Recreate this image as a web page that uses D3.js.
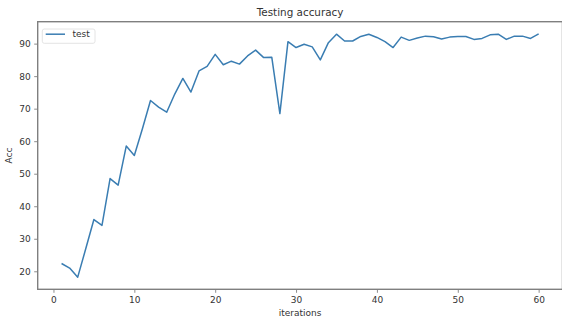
<!DOCTYPE html>
<html>
<head>
<meta charset="utf-8">
<script src="https://cdn.jsdelivr.net/npm/d3@7"></script>
<style>
  html, body { margin: 0; padding: 0; background: #fff; }
  svg { display: block; }
  text { font-family: "DejaVu Sans", sans-serif; fill: #333; }
</style>
</head>
<body>
<svg id="chart" width="562" height="322"></svg>
<script>
// Test accuracy per iteration
const iterations = d3.range(1, 61);
const testAcc = [
  22.4, 21.0, 18.2, 27.0, 35.9, 34.1, 48.5, 46.5, 58.5, 55.6,
  63.8, 72.5, 70.5, 68.9, 74.5, 79.3, 75.1, 81.6, 83.0, 86.7,
  83.5, 84.6, 83.7, 86.2, 88.0, 85.7, 85.8, 68.5, 90.6, 88.8,
  89.8, 89.0, 85.0, 90.3, 92.9, 90.8, 90.8, 92.2, 92.9, 91.9,
  90.6, 88.8, 92.0, 91.0, 91.7, 92.3, 92.1, 91.4, 92.0, 92.2,
  92.2, 91.3, 91.6, 92.7, 92.9, 91.3, 92.3, 92.3, 91.6, 93.0
];
const xTicks = [0, 10, 20, 30, 40, 50, 60];
const yTicks = [20, 30, 40, 50, 60, 70, 80, 90];
const seriesName = "test";
const titleText = "Testing accuracy";
const xLabel = "iterations";
const yLabel = "Acc";

const svg = d3.select("#chart");
const m = { left: 37.7, top: 21.7, right: 562.5, bottom: 289.3 };

// 5% padding on both axes
const pad = (lo, hi) => { const d = (hi - lo) * 0.05; return [lo - d, hi + d]; };
const x = d3.scaleLinear().domain(pad(d3.min(iterations), d3.max(iterations))).range([m.left, m.right]);
const y = d3.scaleLinear().domain(pad(d3.min(testAcc), d3.max(testAcc))).range([m.bottom, m.top]);

const lineColor = "#3a7db2";
const axisColor = "#7f7f7f";

// x axis
const gx = svg.append("g").attr("transform", `translate(0,${m.bottom})`)
  .call(d3.axisBottom(x).tickValues(xTicks).tickSize(3.5).tickPadding(3.5).tickFormat(d3.format("d")));
gx.select(".domain").remove();
gx.selectAll("line").attr("stroke", axisColor).attr("stroke-width", 0.9);
gx.selectAll("text").style("font-size", "9px").style("fill", "#333");

// y axis
const gy = svg.append("g").attr("transform", `translate(${m.left},0)`)
  .call(d3.axisLeft(y).tickValues(yTicks).tickSize(3.5).tickPadding(3.5).tickFormat(d3.format("d")));
gy.select(".domain").remove();
gy.selectAll("line").attr("stroke", axisColor).attr("stroke-width", 0.9);
gy.selectAll("text").style("font-size", "9px").style("fill", "#333");

// series line
svg.append("path")
  .datum(iterations.map((it, i) => [it, testAcc[i]]))
  .attr("fill", "none")
  .attr("stroke", lineColor)
  .attr("stroke-width", 1.5)
  .attr("stroke-linejoin", "round")
  .attr("d", d3.line().x(d => x(d[0])).y(d => y(d[1])));

// frame
svg.append("rect")
  .attr("x", m.left).attr("y", m.top)
  .attr("width", m.right - m.left).attr("height", m.bottom - m.top)
  .attr("fill", "none").attr("stroke", axisColor).attr("stroke-width", 1.4);

// title and axis labels
svg.append("text").attr("x", (m.left + m.right) / 2).attr("y", 16)
  .attr("text-anchor", "middle").style("font-size", "10.4px").text(titleText);
svg.append("text").attr("x", (m.left + m.right) / 2).attr("y", 316)
  .attr("text-anchor", "middle").style("font-size", "9px").text(xLabel);
svg.append("text").attr("transform", `translate(12,${(m.top + m.bottom) / 2}) rotate(-90)`)
  .attr("text-anchor", "middle").style("font-size", "9px").text(yLabel);

// legend
const lg = svg.append("g");
lg.append("rect").attr("x", 42.3).attr("y", 29).attr("width", 52.7).attr("height", 14.3)
  .attr("rx", 2).attr("fill", "#fff").attr("stroke", "#ddd").attr("stroke-width", 0.8);
lg.append("line").attr("x1", 45.7).attr("x2", 65).attr("y1", 34.2).attr("y2", 34.2)
  .attr("stroke", lineColor).attr("stroke-width", 1.5);
lg.append("text").attr("x", 72.5).attr("y", 37.3).style("font-size", "9px").text(seriesName);
</script>
</body>
</html>
